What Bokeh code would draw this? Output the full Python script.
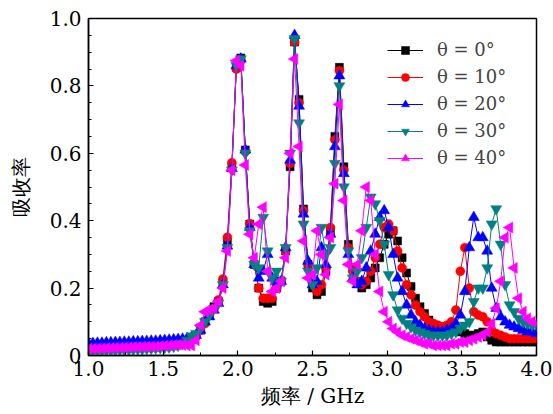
from bokeh.plotting import figure
from bokeh.models import Legend, LegendItem, FixedTicker
from bokeh.embed import file_html
from bokeh.resources import INLINE

freq = [1.00, 1.03, 1.06, 1.09, 1.12, 1.15, 1.18, 1.21, 1.24, 1.27,
        1.30, 1.33, 1.36, 1.39, 1.42, 1.45, 1.48, 1.51, 1.54, 1.57,
        1.60, 1.63, 1.66, 1.69, 1.72, 1.75, 1.78, 1.81, 1.84, 1.87,
        1.90, 1.93, 1.96, 1.99, 2.02, 2.05, 2.08, 2.11, 2.14, 2.17,
        2.20, 2.23, 2.26, 2.29, 2.32, 2.35, 2.38, 2.41, 2.44, 2.47,
        2.50, 2.53, 2.56, 2.59, 2.62, 2.65, 2.68, 2.71, 2.74, 2.77,
        2.80, 2.83, 2.86, 2.89, 2.92, 2.95, 2.98, 3.01, 3.04, 3.07,
        3.10, 3.13, 3.16, 3.19, 3.22, 3.25, 3.28, 3.31, 3.34, 3.37,
        3.40, 3.43, 3.46, 3.49, 3.52, 3.55, 3.58, 3.61, 3.64, 3.67,
        3.70, 3.73, 3.76, 3.79, 3.82, 3.85, 3.88, 3.91, 3.94, 3.97, 4.00]

a0 = [0.028, 0.028, 0.029, 0.029, 0.030, 0.030, 0.031, 0.031, 0.032, 0.032,
      0.033, 0.033, 0.034, 0.034, 0.035, 0.035, 0.036, 0.037, 0.038, 0.039,
      0.040, 0.042, 0.044, 0.048, 0.060, 0.075, 0.100, 0.120, 0.145, 0.160,
      0.215, 0.335, 0.560, 0.855, 0.883, 0.610, 0.390, 0.270, 0.200, 0.160,
      0.155, 0.160, 0.200, 0.220, 0.310, 0.560, 0.930, 0.760, 0.435, 0.270,
      0.200, 0.180, 0.190, 0.250, 0.370, 0.650, 0.855, 0.560, 0.330, 0.260,
      0.220, 0.200, 0.210, 0.230, 0.260, 0.290, 0.330, 0.360, 0.370, 0.340,
      0.290, 0.245, 0.205, 0.170, 0.145, 0.125, 0.105, 0.090, 0.085, 0.080,
      0.080, 0.080, 0.075, 0.070, 0.065, 0.060, 0.060, 0.065, 0.070, 0.055,
      0.045, 0.040, 0.040, 0.040, 0.040, 0.040, 0.040, 0.040, 0.040, 0.040, 0.040]

a10 = [0.030, 0.030, 0.031, 0.031, 0.032, 0.032, 0.033, 0.033, 0.034, 0.034,
       0.035, 0.035, 0.036, 0.036, 0.037, 0.037, 0.038, 0.039, 0.040, 0.041,
       0.042, 0.044, 0.046, 0.050, 0.060, 0.075, 0.095, 0.120, 0.140, 0.165,
       0.227, 0.351, 0.572, 0.850, 0.875, 0.605, 0.391, 0.270, 0.200, 0.170,
       0.170, 0.170, 0.200, 0.220, 0.310, 0.570, 0.930, 0.750, 0.430, 0.270,
       0.210, 0.190, 0.210, 0.260, 0.380, 0.640, 0.845, 0.550, 0.320, 0.250,
       0.220, 0.210, 0.220, 0.250, 0.290, 0.330, 0.380, 0.390, 0.370, 0.310,
       0.260, 0.210, 0.180, 0.150, 0.130, 0.115, 0.100, 0.095, 0.090, 0.085,
       0.090, 0.100, 0.135, 0.250, 0.320, 0.200, 0.130, 0.120, 0.115, 0.100,
       0.075, 0.065, 0.060, 0.055, 0.050, 0.050, 0.050, 0.050, 0.050, 0.050, 0.050]

a20 = [0.036, 0.036, 0.037, 0.037, 0.038, 0.038, 0.039, 0.039, 0.040, 0.040,
       0.041, 0.041, 0.042, 0.042, 0.043, 0.043, 0.044, 0.045, 0.046, 0.047,
       0.048, 0.049, 0.050, 0.053, 0.060, 0.075, 0.100, 0.115, 0.135, 0.155,
       0.210, 0.325, 0.555, 0.860, 0.880, 0.610, 0.380, 0.270, 0.230, 0.250,
       0.300, 0.230, 0.220, 0.220, 0.320, 0.580, 0.950, 0.740, 0.420, 0.280,
       0.210, 0.220, 0.320, 0.270, 0.360, 0.620, 0.830, 0.540, 0.300, 0.230,
       0.210, 0.220, 0.260, 0.310, 0.360, 0.410, 0.430, 0.380, 0.300, 0.230,
       0.190, 0.150, 0.120, 0.100, 0.090, 0.080, 0.075, 0.070, 0.070, 0.070,
       0.075, 0.080, 0.095, 0.120, 0.190, 0.320, 0.410, 0.350, 0.350, 0.310,
       0.200, 0.140, 0.115, 0.100, 0.090, 0.085, 0.080, 0.075, 0.070, 0.070, 0.065]

a30 = [0.013, 0.013, 0.014, 0.014, 0.015, 0.015, 0.016, 0.016, 0.017, 0.017,
       0.018, 0.019, 0.019, 0.020, 0.021, 0.022, 0.023, 0.024, 0.025, 0.027,
       0.030, 0.035, 0.045, 0.058, 0.065, 0.080, 0.100, 0.120, 0.140, 0.155,
       0.210, 0.320, 0.550, 0.860, 0.880, 0.600, 0.370, 0.270, 0.260, 0.410,
       0.310, 0.230, 0.250, 0.220, 0.320, 0.600, 0.940, 0.690, 0.390, 0.250,
       0.210, 0.260, 0.380, 0.300, 0.320, 0.570, 0.800, 0.500, 0.310, 0.230,
       0.250, 0.290, 0.380, 0.470, 0.450, 0.400, 0.330, 0.240, 0.180, 0.135,
       0.110, 0.095, 0.085, 0.075, 0.070, 0.065, 0.060, 0.060, 0.060, 0.060,
       0.060, 0.065, 0.070, 0.080, 0.090, 0.100, 0.160, 0.200, 0.200, 0.260,
       0.390, 0.435, 0.330, 0.210, 0.150, 0.130, 0.110, 0.100, 0.095, 0.090, 0.090]

a40 = [0.020, 0.020, 0.021, 0.021, 0.022, 0.022, 0.023, 0.023, 0.024, 0.024,
       0.025, 0.025, 0.026, 0.026, 0.027, 0.027, 0.028, 0.029, 0.030, 0.031,
       0.032, 0.031, 0.030, 0.030, 0.045, 0.090, 0.130, 0.135, 0.140, 0.160,
       0.200, 0.310, 0.550, 0.875, 0.860, 0.565, 0.360, 0.290, 0.390, 0.440,
       0.250, 0.190, 0.200, 0.220, 0.290, 0.600, 0.880, 0.620, 0.340, 0.230,
       0.240, 0.370, 0.300, 0.240, 0.350, 0.510, 0.745, 0.460, 0.270, 0.220,
       0.270, 0.370, 0.500, 0.460, 0.300, 0.190, 0.130, 0.100, 0.080, 0.070,
       0.060, 0.055, 0.050, 0.045, 0.040, 0.035, 0.035, 0.030, 0.030, 0.030,
       0.030, 0.035, 0.035, 0.040, 0.040, 0.045, 0.050, 0.055, 0.060, 0.070,
       0.094, 0.140, 0.220, 0.350, 0.380, 0.260, 0.170, 0.130, 0.110, 0.100, 0.095]

labels = ["θ = 0°", "θ = 10°", "θ = 20°", "θ = 30°", "θ = 40°"]
colors = ["#000000", "#ff0000", "#0000ff", "#008080", "#ff00ff"]
markers = ["square", "circle", "triangle", "inverted_triangle", "triangle"]
angles = [0.0, 0.0, 0.0, 0.0, 1.5708]
sizes = [8, 9, 11, 11, 11]

x_ticks = [1.0, 1.5, 2.0, 2.5, 3.0, 3.5, 4.0]
x_tick_labels = ["1.0", "1.5", "2.0", "2.5", "3.0", "3.5", "4.0"]
y_ticks = [0.0, 0.2, 0.4, 0.6, 0.8, 1.0]
y_tick_labels = ["0", "0.2", "0.4", "0.6", "0.8", "1.0"]

p = figure(width=553, height=414, x_range=(1.0, 4.0), y_range=(0.0, 1.0),
           output_backend="svg", toolbar_location=None,
           min_border_left=88, min_border_right=17, min_border_top=18, min_border_bottom=59)
p.background_fill_color = "white"
p.border_fill_color = "white"
p.grid.visible = False
p.outline_line_color = "black"
p.outline_line_width = 1.5

items = []
for ys, lab, c, m, a, s in zip([a0, a10, a20, a30, a40], labels, colors, markers, angles, sizes):
    lr = p.line(freq, ys, line_color=c, line_width=1)
    sr = p.scatter(freq, ys, marker=m, angle=a, size=s, fill_color=c, line_color=c, line_width=0.5)
    items.append(LegendItem(label=lab, renderers=[lr, sr]))

legend = Legend(items=items, location=(299, 187), padding=0, spacing=6,
                glyph_width=36, glyph_height=20, label_height=20, label_standoff=14,
                label_text_font="DejaVu Serif", label_text_font_size="18px",
                border_line_alpha=0, background_fill_alpha=0, margin=0)
p.add_layout(legend, "center")

p.xaxis.ticker = FixedTicker(ticks=x_ticks, minor_ticks=[1.0 + 0.25 * k for k in range(13)])
p.yaxis.ticker = FixedTicker(ticks=y_ticks, minor_ticks=[0.05 * k for k in range(21)])
p.xaxis.major_label_overrides = {t: l for t, l in zip(x_ticks, x_tick_labels)}
p.yaxis.major_label_overrides = {t: l for t, l in zip(y_ticks, y_tick_labels)}

for ax in [p.xaxis[0], p.yaxis[0]]:
    ax.axis_line_color = "black"
    ax.axis_line_width = 1.5
    ax.major_tick_in = 5
    ax.major_tick_out = 0
    ax.minor_tick_in = 3
    ax.minor_tick_out = 0
    ax.major_tick_line_width = 1.2
    ax.minor_tick_line_width = 1.0
    ax.major_label_text_font = "DejaVu Serif"
    ax.major_label_text_font_size = "20px"
    ax.major_label_text_color = "black"
    ax.axis_label_text_font = "DejaVu Serif"
    ax.axis_label_text_font_size = "20px"
    ax.axis_label_text_font_style = "normal"
    ax.axis_label_text_color = "black"

p.xaxis.axis_label = "频率 / GHz"
p.yaxis.axis_label = "吸收率"
p.xaxis.major_label_standoff = 5
p.xaxis.axis_label_standoff = 5
p.yaxis.major_label_standoff = 7
p.yaxis.axis_label_standoff = 14

open("out.html", "w").write(file_html(p, INLINE))
